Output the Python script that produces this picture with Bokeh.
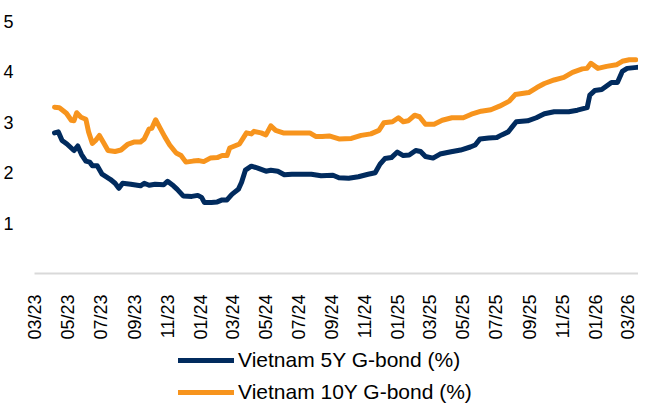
import math
import pandas as pd
from bokeh.plotting import figure
from bokeh.layouts import column
from bokeh.models import (ColumnDataSource, FixedTicker, Legend, LegendItem,
                          DatetimeTickFormatter, MonthsTicker, Range1d)
from bokeh.embed import file_html
from bokeh.resources import INLINE

# ---- data ----
dates_5y = ["2023-04-06", "2023-04-13", "2023-04-20", "2023-04-29", "2023-05-12", "2023-05-19",
            "2023-05-26", "2023-06-03", "2023-06-10", "2023-06-15", "2023-06-24", "2023-07-03",
            "2023-07-18", "2023-07-27", "2023-08-03", "2023-08-10", "2023-08-25", "2023-09-12",
            "2023-09-19", "2023-09-28", "2023-10-09", "2023-10-25", "2023-11-01", "2023-11-12",
            "2023-11-19", "2023-11-30", "2023-12-16", "2023-12-27", "2024-01-03", "2024-01-08",
            "2024-01-21", "2024-02-01", "2024-02-10", "2024-02-19", "2024-02-28", "2024-03-11",
            "2024-03-17", "2024-03-24", "2024-04-04", "2024-04-16", "2024-05-01", "2024-05-10",
            "2024-05-23", "2024-06-04", "2024-06-18", "2024-07-06", "2024-07-24", "2024-08-11",
            "2024-09-02", "2024-09-13", "2024-10-01", "2024-10-19", "2024-11-06", "2024-11-19",
            "2024-11-28", "2024-12-07", "2024-12-19", "2024-12-30", "2025-01-10", "2025-01-21",
            "2025-02-02", "2025-02-11", "2025-02-20", "2025-03-06", "2025-03-19", "2025-04-06",
            "2025-04-26", "2025-05-14", "2025-05-23", "2025-06-01", "2025-06-17", "2025-07-02",
            "2025-07-11", "2025-07-23", "2025-08-07", "2025-08-28", "2025-09-13", "2025-09-28",
            "2025-10-16", "2025-11-12", "2025-11-28", "2025-12-16", "2025-12-21", "2025-12-30",
            "2026-01-12", "2026-01-21", "2026-01-30", "2026-02-10", "2026-02-19", "2026-02-28",
            "2026-03-18"]
yield_5y = [2.79, 2.81, 2.64, 2.57, 2.44, 2.53,
            2.36, 2.23, 2.21, 2.14, 2.14, 1.97,
            1.87, 1.79, 1.69, 1.79, 1.77, 1.74,
            1.79, 1.75, 1.77, 1.76, 1.83, 1.74,
            1.67, 1.54, 1.53, 1.55, 1.51, 1.41,
            1.41, 1.42, 1.46, 1.46, 1.57, 1.67,
            1.81, 2.05, 2.13, 2.09, 2.03, 2.05,
            2.03, 1.96, 1.97, 1.97, 1.97, 1.94,
            1.95, 1.90, 1.89, 1.92, 1.97, 2.00,
            2.17, 2.28, 2.30, 2.41, 2.34, 2.35,
            2.44, 2.42, 2.32, 2.29, 2.37, 2.41,
            2.45, 2.51, 2.55, 2.67, 2.69, 2.70,
            2.75, 2.81, 3.01, 3.03, 3.09, 3.17,
            3.21, 3.21, 3.24, 3.29, 3.54, 3.63,
            3.65, 3.72, 3.79, 3.79, 4.01, 4.07,
            4.09]

dates_10y = ["2023-04-06", "2023-04-15", "2023-04-28", "2023-05-07", "2023-05-12", "2023-05-17",
             "2023-05-25", "2023-06-03", "2023-06-08", "2023-06-15", "2023-06-21", "2023-06-28",
             "2023-07-05", "2023-07-14", "2023-07-27", "2023-08-07", "2023-08-19", "2023-09-01",
             "2023-09-12", "2023-09-19", "2023-09-28", "2023-10-03", "2023-10-10", "2023-10-18",
             "2023-10-27", "2023-11-05", "2023-11-17", "2023-11-26", "2023-12-05", "2023-12-18",
             "2023-12-29", "2024-01-07", "2024-01-19", "2024-02-01", "2024-02-10", "2024-02-19",
             "2024-02-24", "2024-03-04", "2024-03-13", "2024-03-26", "2024-04-04", "2024-04-09",
             "2024-04-22", "2024-05-01", "2024-05-10", "2024-05-19", "2024-06-02", "2024-06-15",
             "2024-07-03", "2024-07-21", "2024-08-01", "2024-08-13", "2024-08-26", "2024-09-13",
             "2024-10-06", "2024-10-24", "2024-11-11", "2024-11-26", "2024-12-05", "2024-12-21",
             "2025-01-01", "2025-01-10", "2025-01-19", "2025-01-31", "2025-02-09", "2025-02-20",
             "2025-03-08", "2025-03-23", "2025-04-10", "2025-05-01", "2025-05-16", "2025-06-03",
             "2025-06-21", "2025-07-07", "2025-07-25", "2025-08-05", "2025-08-30", "2025-09-14",
             "2025-09-28", "2025-10-16", "2025-11-03", "2025-11-19", "2025-12-07", "2025-12-16",
             "2025-12-23", "2026-01-05", "2026-01-21", "2026-02-08", "2026-02-19", "2026-03-04",
             "2026-03-16"]
yield_10y = [3.30, 3.29, 3.18, 3.04, 3.03, 3.19,
             3.10, 3.06, 2.81, 2.58, 2.64, 2.74,
             2.61, 2.44, 2.42, 2.45, 2.56, 2.61,
             2.61, 2.67, 2.87, 2.88, 3.05, 2.89,
             2.71, 2.55, 2.39, 2.34, 2.21, 2.23,
             2.24, 2.22, 2.29, 2.30, 2.34, 2.34,
             2.49, 2.53, 2.57, 2.79, 2.77, 2.82,
             2.79, 2.75, 2.93, 2.84, 2.79, 2.79,
             2.79, 2.79, 2.72, 2.72, 2.73, 2.67,
             2.68, 2.74, 2.77, 2.84, 2.99, 3.01,
             3.09, 3.01, 3.03, 3.14, 3.11, 2.96,
             2.96, 3.04, 3.09, 3.09, 3.16, 3.22,
             3.25, 3.32, 3.42, 3.55, 3.59, 3.69,
             3.77, 3.84, 3.89, 3.99, 4.06, 4.07,
             4.17, 4.07, 4.11, 4.14, 4.21, 4.24,
             4.24]

series_labels = ["Vietnam 5Y G-bond (%)", "Vietnam 10Y G-bond (%)"]
series_colors = ["#012B5E", "#F7941D"]
y_ticks = [1, 2, 3, 4, 5]
x_tick_months = [0, 2, 4, 6, 8, 10]   # Bokeh months are 0-based: Jan, Mar, May, Jul, Sep, Nov
x_start, x_end = "2023-02-28", "2026-03-21"
y_start, y_end = 0, 5

FONT = "Liberation Sans"
W = 638

src5 = ColumnDataSource(dict(x=pd.to_datetime(dates_5y), y=yield_5y))
src10 = ColumnDataSource(dict(x=pd.to_datetime(dates_10y), y=yield_10y))

# ---------------- main chart ----------------
p = figure(width=W, height=342, output_backend="svg", toolbar_location=None,
           x_axis_type="datetime",
           x_range=Range1d(pd.Timestamp(x_start), pd.Timestamp(x_end)),
           y_range=Range1d(y_start, y_end),
           min_border_left=28, min_border_right=0, min_border_top=21, min_border_bottom=69)
p.outline_line_color = None
p.xgrid.grid_line_color = None
p.ygrid.grid_line_color = None
p.background_fill_color = "white"
p.border_fill_color = "white"

p.line("x", "y", source=src5, line_width=5, line_color=series_colors[0],
       line_join="round", line_cap="round")
p.line("x", "y", source=src10, line_width=5, line_color=series_colors[1],
       line_join="round", line_cap="round")

xa = p.xaxis[0]
xa.ticker = MonthsTicker(months=x_tick_months)
xa.formatter = DatetimeTickFormatter(months="%m/%y", days="%m/%y", years="%m/%y")
xa.major_label_orientation = math.pi / 2
xa.axis_line_color = "#D9D9D9"
xa.axis_line_width = 2
xa.major_tick_line_color = None
xa.minor_tick_line_color = None
xa.major_label_standoff = 15
xa.major_label_text_font = FONT
xa.major_label_text_font_size = "18px"
xa.major_label_text_color = "#000000"

ya = p.yaxis[0]
ya.ticker = FixedTicker(ticks=y_ticks)
ya.axis_line_color = None
ya.major_tick_line_color = None
ya.minor_tick_line_color = None
ya.major_label_standoff = 15
ya.major_label_text_font = FONT
ya.major_label_text_font_size = "18px"
ya.major_label_text_color = "#000000"

# ---------------- legend strip ----------------
# legend keys reuse the series sources; the strip's ranges keep the lines themselves out of view
pl = figure(width=W, height=62, output_backend="svg", toolbar_location=None,
            x_range=Range1d(0, 1), y_range=Range1d(0, 1),
            x_axis_location=None, y_axis_location=None, min_border=0)
pl.outline_line_color = None
pl.grid.visible = False
pl.background_fill_color = "white"
pl.border_fill_color = "white"
k5 = pl.line("x", "y", source=src5, line_width=5, line_color=series_colors[0], line_cap="round")
k10 = pl.line("x", "y", source=src10, line_width=5, line_color=series_colors[1], line_cap="round")

legend = Legend(items=[LegendItem(label=series_labels[0], renderers=[k5]),
                       LegendItem(label=series_labels[1], renderers=[k10])],
                orientation="vertical", location=(144, 0),
                glyph_width=56, glyph_height=22, label_height=22,
                label_standoff=4, spacing=8, padding=0, margin=0,
                border_line_color=None, background_fill_alpha=0,
                label_text_font=FONT, label_text_font_size="21px",
                label_text_color="#000000")
pl.add_layout(legend, "center")

layout = column(p, pl, spacing=0)
open("out.html", "w").write(file_html(layout, INLINE))
